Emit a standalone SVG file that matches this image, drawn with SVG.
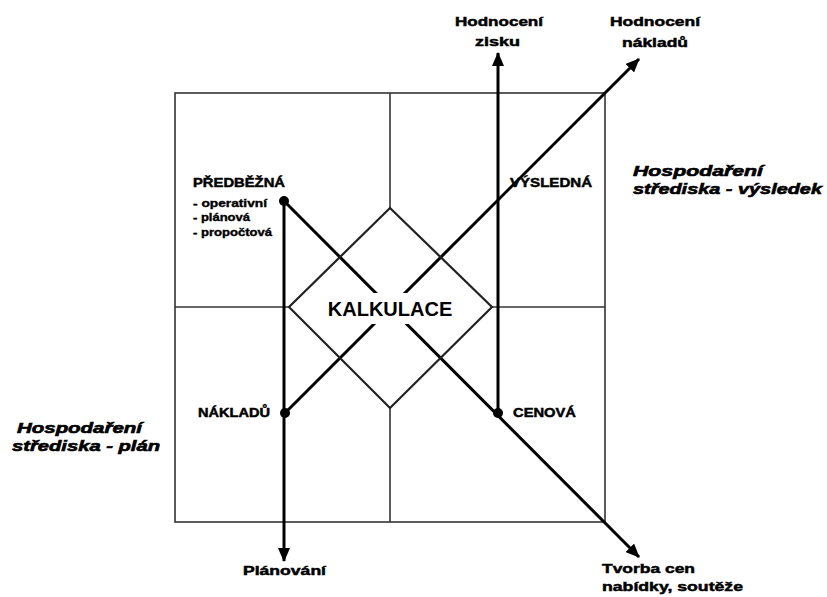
<svg xmlns="http://www.w3.org/2000/svg" width="827" height="597" viewBox="0 0 827 597">
<defs>
<style>
.grid{fill:none;stroke:#333;stroke-width:1.6}
.dia{fill:none;stroke:#222;stroke-width:2.2}
.axis{fill:none;stroke:#000;stroke-width:3}
.t{font-family:"Liberation Sans",Arial,sans-serif;font-weight:bold;fill:#000;font-size:12px;stroke:#000;stroke-width:0.45}
.s{font-size:10px;stroke-width:0.35}
.it{font-style:italic;font-size:14px;stroke-width:0.6}
.big{font-size:20px;stroke:none}
</style>
<marker id="arr" viewBox="0 0 14 12" refX="13" refY="6" markerWidth="14" markerHeight="12" markerUnits="userSpaceOnUse" orient="auto">
<path d="M0,0 L14,6 L0,12 Z" fill="#000"/>
</marker>
</defs>
<g id="grid">
<rect class="grid" x="175" y="93" width="430" height="429"/>
<line class="grid" x1="390" y1="93" x2="390" y2="208"/>
<line class="grid" x1="390" y1="408" x2="390" y2="522"/>
<line class="grid" x1="175" y1="307" x2="289" y2="307"/>
<line class="grid" x1="492" y1="307" x2="605" y2="307"/>
</g>
<g id="connectors">
<line class="axis" x1="284" y1="201" x2="639" y2="557" marker-end="url(#arr)"/>
<line class="axis" x1="285" y1="413" x2="639" y2="59" marker-end="url(#arr)"/>
<line class="axis" x1="284" y1="201" x2="284" y2="561" marker-end="url(#arr)"/>
<line class="axis" x1="498" y1="413" x2="498" y2="53" marker-end="url(#arr)"/>
<circle cx="284" cy="201" r="5" fill="#000"/>
<circle cx="285" cy="413" r="5" fill="#000"/>
<circle cx="498" cy="413" r="5" fill="#000"/>
</g>
<g id="kalkulace">
<polygon class="dia" points="390,208 492,307 390,408 289,307" fill="none"/>
<rect x="327" y="293" width="127" height="31" fill="#fff"/>
<text class="t big" x="390" y="316" text-anchor="middle">KALKULACE</text>
</g>
<g id="predbezna">
<text class="t" x="193" y="187" textLength="92" lengthAdjust="spacingAndGlyphs">PŘEDBĚŽNÁ</text>
<text class="t s" x="193" y="207" textLength="74" lengthAdjust="spacingAndGlyphs">- operativní</text>
<text class="t s" x="193" y="221" textLength="57" lengthAdjust="spacingAndGlyphs">- plánová</text>
<text class="t s" x="193" y="236" textLength="79" lengthAdjust="spacingAndGlyphs">- propočtová</text>
</g>
<g id="vysledna"><text class="t" x="510" y="187" textLength="82" lengthAdjust="spacingAndGlyphs">VÝSLEDNÁ</text></g>
<g id="nakladu"><text class="t" x="198" y="417" textLength="72" lengthAdjust="spacingAndGlyphs">NÁKLADŮ</text></g>
<g id="cenova"><text class="t" x="513" y="417" textLength="63" lengthAdjust="spacingAndGlyphs">CENOVÁ</text></g>
<g id="hodnoceni-zisku">
<text class="t" x="455" y="26" textLength="88" lengthAdjust="spacingAndGlyphs">Hodnocení</text>
<text class="t" x="475" y="46" textLength="45" lengthAdjust="spacingAndGlyphs">zisku</text>
</g>
<g id="hodnoceni-nakladu">
<text class="t" x="610" y="26" textLength="90" lengthAdjust="spacingAndGlyphs">Hodnocení</text>
<text class="t" x="622" y="47" textLength="66" lengthAdjust="spacingAndGlyphs">nákladů</text>
</g>
<g id="planovani"><text class="t" x="243" y="575" textLength="83" lengthAdjust="spacingAndGlyphs">Plánování</text></g>
<g id="tvorba-cen">
<text class="t" x="602" y="573" textLength="93" lengthAdjust="spacingAndGlyphs">Tvorba cen</text>
<text class="t" x="602" y="591" textLength="141" lengthAdjust="spacingAndGlyphs">nabídky, soutěže</text>
</g>
<g id="hosp-vysledek">
<text class="t it" x="633" y="176" textLength="130" lengthAdjust="spacingAndGlyphs">Hospodaření</text>
<text class="t it" x="633" y="194" textLength="189" lengthAdjust="spacingAndGlyphs">střediska - výsledek</text>
</g>
<g id="hosp-plan">
<text class="t it" x="17" y="433" textLength="125" lengthAdjust="spacingAndGlyphs">Hospodaření</text>
<text class="t it" x="12" y="451" textLength="148" lengthAdjust="spacingAndGlyphs">střediska - plán</text>
</g>
</svg>
